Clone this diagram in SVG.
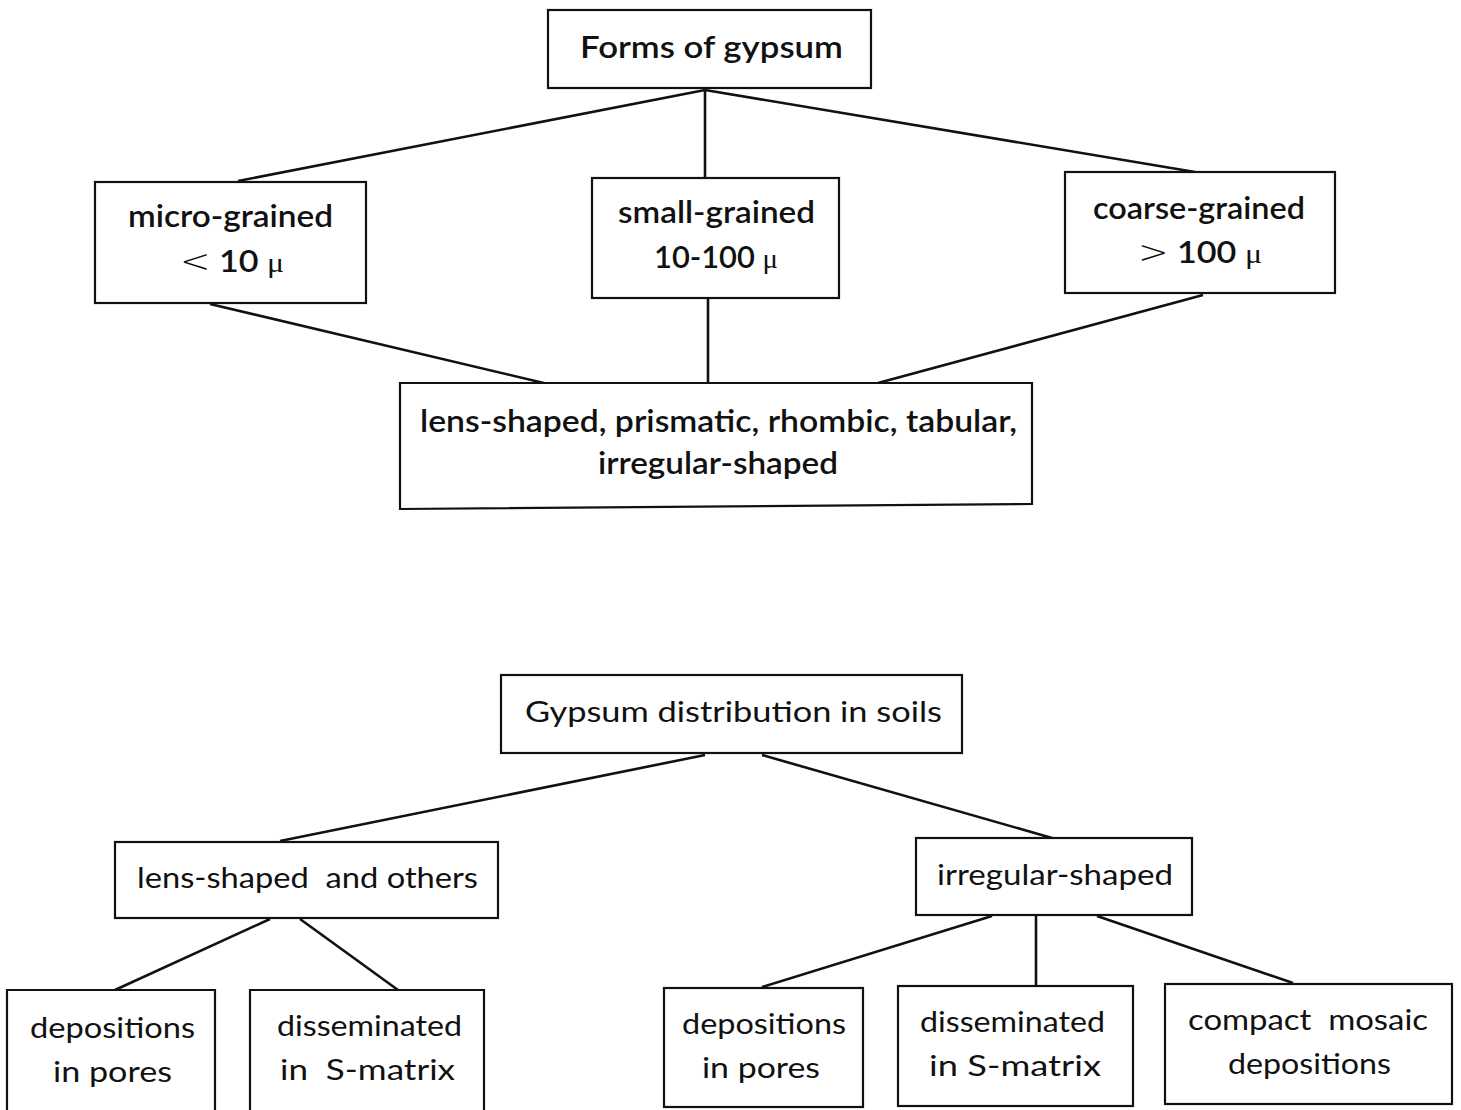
<svg xmlns="http://www.w3.org/2000/svg" width="1461" height="1110" viewBox="0 0 1461 1110">
  <style>
    .box { fill: #ffffff; stroke: #111111; stroke-width: 2.2; }
    .edge { stroke: #111111; stroke-width: 2.6; fill: none; }
    .t1 { font-family: Lato, "Open Sans", sans-serif; font-size: 30px; font-weight: 600; fill: #111111; }
    .t2 { font-family: Lato, "Open Sans", sans-serif; font-size: 29px; font-weight: 400; fill: #111111; }
    .rel { font-family: "DejaVu Sans", sans-serif; font-weight: 200; font-size: 32px; }
    .mu { font-family: "Liberation Serif", serif; font-weight: 400; font-size: 28px; }
  </style>
  <rect x="0" y="0" width="1461" height="1110" fill="#ffffff"/>

  <!-- connectors -->
  <g id="connectors">
    <line class="edge" x1="705" y1="90" x2="238" y2="181"/>
    <line class="edge" x1="705" y1="90" x2="705" y2="177"/>
    <line class="edge" x1="705" y1="90" x2="1195" y2="172"/>
    <line class="edge" x1="210" y1="304" x2="548" y2="384"/>
    <line class="edge" x1="708" y1="299" x2="708" y2="383"/>
    <line class="edge" x1="1203" y1="295" x2="878" y2="383"/>
    <line class="edge" x1="705" y1="755" x2="280" y2="841"/>
    <line class="edge" x1="762" y1="755" x2="1052" y2="838"/>
    <line class="edge" x1="270" y1="919" x2="115" y2="990"/>
    <line class="edge" x1="300" y1="919" x2="398" y2="990"/>
    <line class="edge" x1="992" y1="916" x2="762" y2="987"/>
    <line class="edge" x1="1036" y1="916" x2="1036" y2="985"/>
    <line class="edge" x1="1097" y1="916" x2="1293" y2="983"/>
  </g>

  <!-- upper chart: forms -->
  <g id="forms">
    <rect class="box" x="548" y="10" width="323" height="78"/>
    <text class="t1" x="580" y="58" textLength="263" lengthAdjust="spacingAndGlyphs">Forms of gypsum</text>
  </g>
  <g id="micro">
    <rect class="box" x="95" y="182" width="271" height="121"/>
    <text class="t1" x="128" y="227" textLength="205" lengthAdjust="spacingAndGlyphs">micro-grained</text>
    <text class="t1" x="180" y="272" textLength="104" lengthAdjust="spacingAndGlyphs"><tspan class="rel">&lt;</tspan> 10 <tspan class="mu">μ</tspan></text>
  </g>
  <g id="small">
    <rect class="box" x="592" y="178" width="247" height="120"/>
    <text class="t1" x="618" y="223" textLength="197" lengthAdjust="spacingAndGlyphs">small-grained</text>
    <text class="t1" x="654" y="268" textLength="124" lengthAdjust="spacingAndGlyphs">10-100 <tspan class="mu">μ</tspan></text>
  </g>
  <g id="coarse">
    <rect class="box" x="1065" y="172" width="270" height="121"/>
    <text class="t1" x="1093" y="219" textLength="212" lengthAdjust="spacingAndGlyphs">coarse-grained</text>
    <text class="t1" x="1138" y="263" textLength="124" lengthAdjust="spacingAndGlyphs"><tspan class="rel">&gt;</tspan> 100 <tspan class="mu">μ</tspan></text>
  </g>
  <g id="shapes">
    <path class="box" d="M400,383 H1032 V504 L400,509 Z"/>
    <text class="t1" x="420" y="432" textLength="597" lengthAdjust="spacingAndGlyphs">lens-shaped, prismatic, rhombic, tabular,</text>
    <text class="t1" x="598" y="474" textLength="240" lengthAdjust="spacingAndGlyphs">irregular-shaped</text>
  </g>

  <!-- lower chart: distribution -->
  <g id="distribution">
    <rect class="box" x="501" y="675" width="461" height="78"/>
    <text class="t2" x="525" y="722" textLength="417" lengthAdjust="spacingAndGlyphs">Gypsum distribution in soils</text>
  </g>
  <g id="lens-others">
    <rect class="box" x="115" y="842" width="383" height="76"/>
    <text class="t2" x="137" y="888" textLength="341" lengthAdjust="spacingAndGlyphs" xml:space="preserve">lens-shaped  and others</text>
  </g>
  <g id="irregular">
    <rect class="box" x="916" y="838" width="276" height="77"/>
    <text class="t2" x="937" y="885" textLength="236" lengthAdjust="spacingAndGlyphs">irregular-shaped</text>
  </g>
  <g id="pores-a">
    <path class="box" d="M7,1112 V990 H215 V1112"/>
    <text class="t2" x="30" y="1038" textLength="165" lengthAdjust="spacingAndGlyphs">depositions</text>
    <text class="t2" x="53" y="1082" textLength="119" lengthAdjust="spacingAndGlyphs">in pores</text>
  </g>
  <g id="matrix-a">
    <path class="box" d="M250,1112 V990 H484 V1112"/>
    <text class="t2" x="277" y="1036" textLength="185" lengthAdjust="spacingAndGlyphs">disseminated</text>
    <text class="t2" x="280" y="1080" textLength="175" lengthAdjust="spacingAndGlyphs" xml:space="preserve">in  S-matrix</text>
  </g>
  <g id="pores-b">
    <rect class="box" x="664" y="988" width="199" height="119"/>
    <text class="t2" x="682" y="1034" textLength="164" lengthAdjust="spacingAndGlyphs">depositions</text>
    <text class="t2" x="702" y="1078" textLength="118" lengthAdjust="spacingAndGlyphs">in pores</text>
  </g>
  <g id="matrix-b">
    <rect class="box" x="898" y="986" width="235" height="120"/>
    <text class="t2" x="920" y="1032" textLength="185" lengthAdjust="spacingAndGlyphs">disseminated</text>
    <text class="t2" x="929" y="1076" textLength="172" lengthAdjust="spacingAndGlyphs">in S-matrix</text>
  </g>
  <g id="mosaic">
    <rect class="box" x="1165" y="984" width="287" height="120"/>
    <text class="t2" x="1188" y="1030" textLength="240" lengthAdjust="spacingAndGlyphs" xml:space="preserve">compact  mosaic</text>
    <text class="t2" x="1228" y="1074" textLength="163" lengthAdjust="spacingAndGlyphs">depositions</text>
  </g>
</svg>
